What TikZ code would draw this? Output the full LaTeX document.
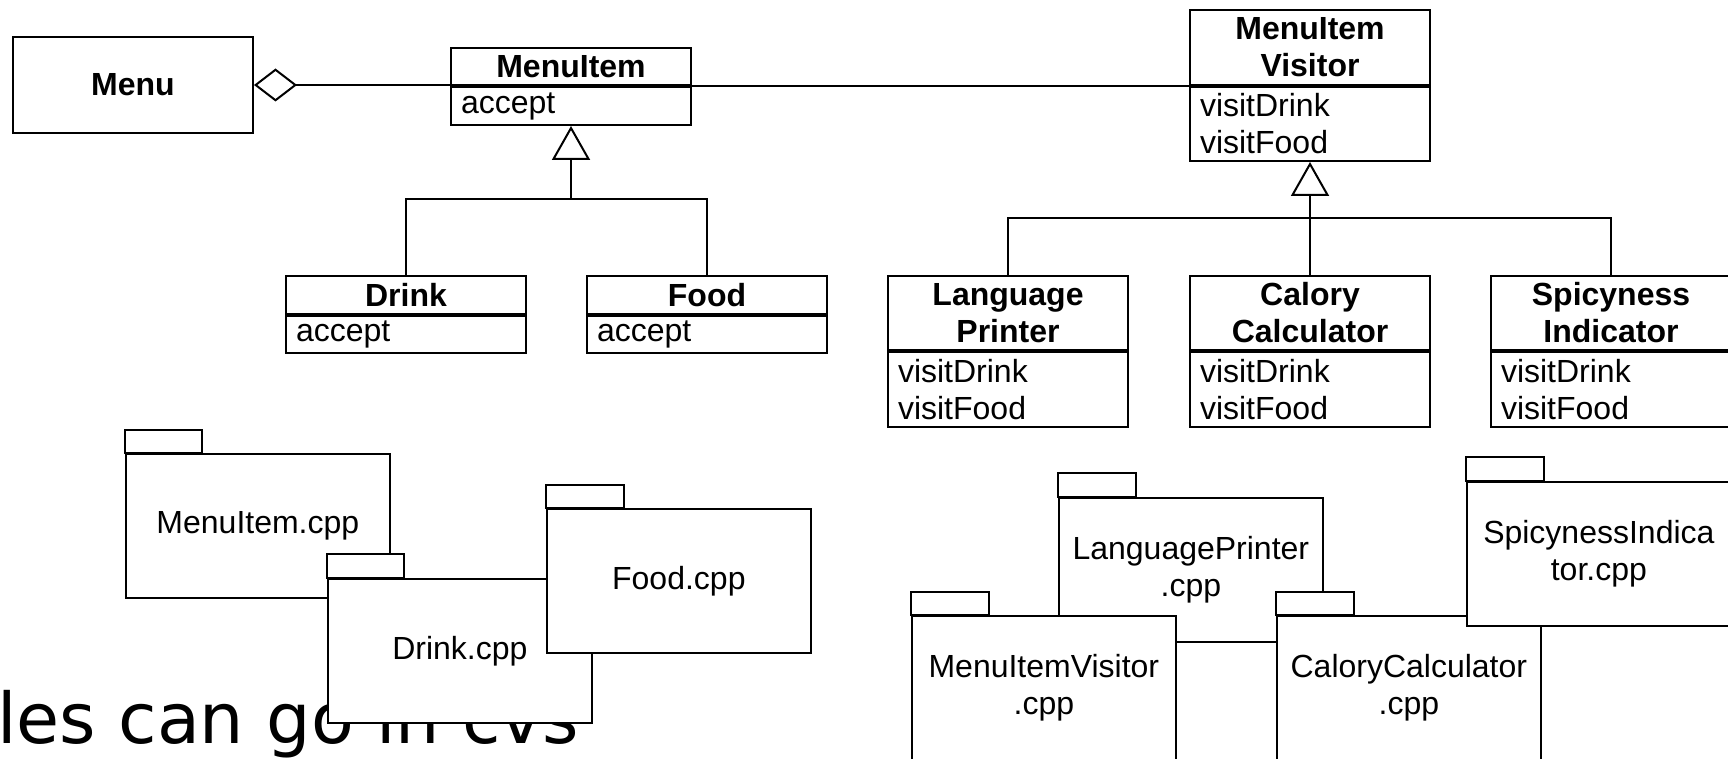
\documentclass[tikz,border=0pt]{standalone}
\usepackage{fontspec}
\setmainfont{Liberation Sans}
\newfontfamily\cvsfont{DejaVu Sans}
\usepackage{tikz}
\usetikzlibrary{arrows.meta}

\newcommand{\classfont}{\fontsize{16}{18.5}\selectfont}

\begin{document}
\begin{tikzpicture}[
  x=0.5pt, y=-0.5pt,
  cls/.style={draw, line width=1pt, inner sep=0pt, anchor=north west, minimum width=120pt},
  head/.style={cls, font=\classfont\bfseries, align=center, text width=110pt},
  ops/.style={cls, font=\classfont, align=left, text width=110pt},
  pkg/.style={draw, line width=0.85pt, fill=white, anchor=north west, minimum width=132pt, minimum height=72pt, inner sep=0pt, font=\classfont, align=center},
  pkgtab/.style={draw, line width=0.85pt, fill=white},
  assoc/.style={line width=1pt},
  agg/.style={assoc, {Diamond[open, length=21.5pt, width=16.5pt]}-},
  gen/.style={assoc, -{Triangle[open, length=17pt, width=19pt]}}
]
\useasboundingbox (0,0) rectangle (1728,759);

% class diagram
\node[head, minimum height=48pt] (menu) at (12,36) {Menu};
\node[head, minimum height=18.5pt] (mi) at (450,47) {MenuItem};
\node[ops, minimum height=19pt] (miops) at (mi.south west) {accept};
\node[head, minimum height=19pt] (drink) at (285,275) {Drink};
\node[ops, minimum height=18.5pt] (drinkops) at (drink.south west) {accept};
\node[head, minimum height=19pt] (food) at (586,275) {Food};
\node[ops, minimum height=18.5pt] (foodops) at (food.south west) {accept};

\node[head, minimum height=37.5pt] (miv) at (1189,9) {MenuItem\\Visitor};
\node[ops, minimum height=37pt] (mivops) at (miv.south west) {visitDrink\\visitFood};
\node[head, minimum height=37pt] (lp) at (887,275) {Language\\Printer};
\node[ops, minimum height=37.5pt] (lpops) at (lp.south west) {visitDrink\\visitFood};
\node[head, minimum height=37pt] (cc) at (1189,275) {Calory\\Calculator};
\node[ops, minimum height=37.5pt] (ccops) at (cc.south west) {visitDrink\\visitFood};
\node[head, minimum height=37pt] (sp) at (1490,275) {Spicyness\\Indicator};
\node[ops, minimum height=37.5pt] (spops) at (sp.south west) {visitDrink\\visitFood};

\draw[agg] (menu.east) -- (menu.east -| mi.west);
\draw[assoc] (mi.south east) -- (mi.south east -| miv.west);

\coordinate (mijoin) at (miops.south |- 0,199);
\draw[gen] (mijoin) -- (miops.south);
\draw[assoc] (drink.north) |- (mijoin) -| (food.north);

\coordinate (mvjoin) at (mivops.south |- 0,218);
\draw[gen] (mvjoin) -- (mivops.south);
\draw[assoc] (lp.north) |- (mvjoin) -| (sp.north);
\draw[assoc] (cc.north) -- (mvjoin);

% files
\node[anchor=base west, inner sep=0pt, font=\cvsfont\fontsize{35}{40}\selectfont] (cvs) at (-3,743) {les can go in cvs};

\node[pkg] (micpp) at (125,453) {MenuItem.cpp};
\draw[pkgtab] (micpp.north west) rectangle ++(77,-23);
\node[pkg] (drinkcpp) at (327,578) {Drink.cpp};
\draw[pkgtab] (drinkcpp.north west) rectangle ++(77,-24);
\node[pkg] (foodcpp) at (546,508) {Food.cpp};
\draw[pkgtab] (foodcpp.north west) rectangle ++(78,-23);

\node[pkg] (lpcpp) at (1058,497) {LanguagePrinter\\.cpp};
\draw[pkgtab] (lpcpp.north west) rectangle ++(78,-24);
\node[pkg] (mivcpp) at (911,615) {MenuItemVisitor\\.cpp};
\draw[pkgtab] (mivcpp.north west) rectangle ++(78,-23);
\node[pkg] (cccpp) at (1276,615) {CaloryCalculator\\.cpp};
\draw[pkgtab] (cccpp.north west) rectangle ++(78,-23);
\node[pkg] (spcpp) at (1466,481) {SpicynessIndica\\tor.cpp};
\draw[pkgtab] (spcpp.north west) rectangle ++(78,-24);
\end{tikzpicture}
\end{document}
